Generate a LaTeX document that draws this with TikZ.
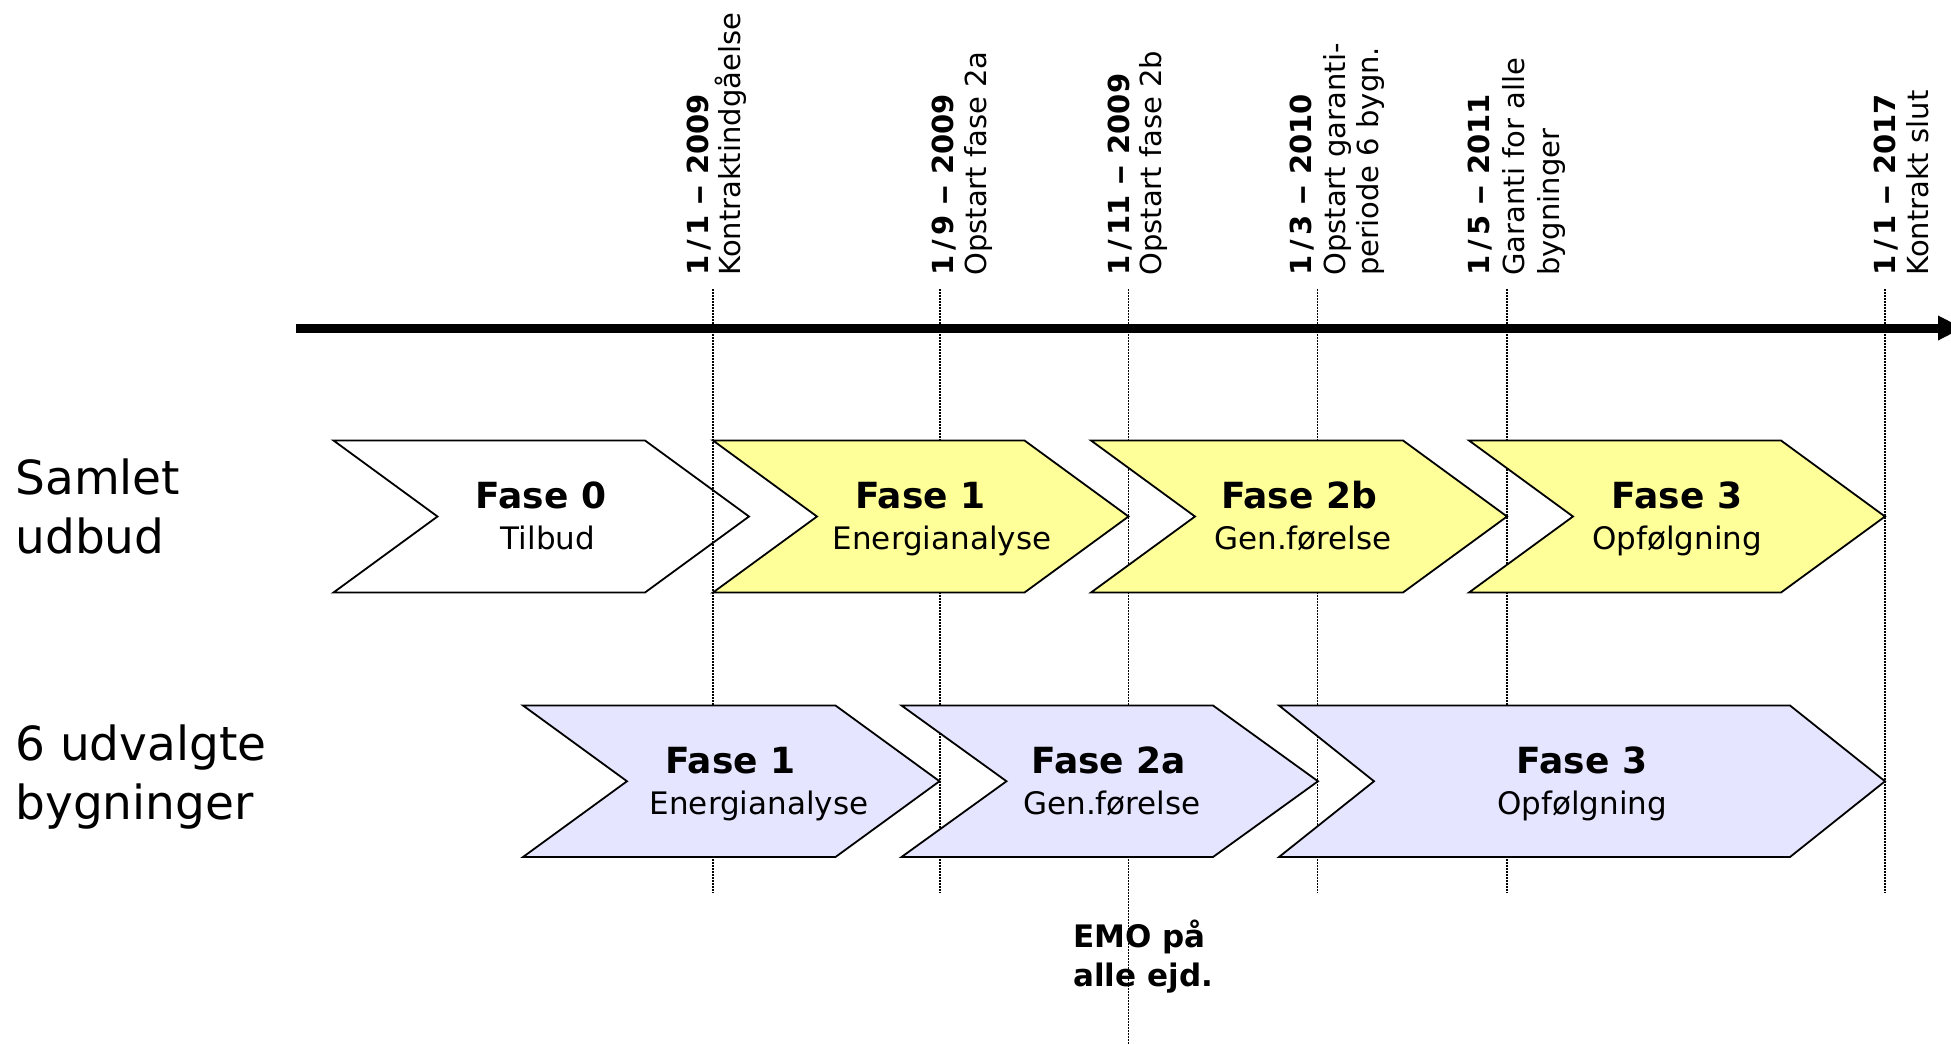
\documentclass[tikz,border=0pt]{standalone}
\usepackage{graphicx}
\usepackage{fontspec}
\setmainfont{DejaVu Sans}
\usetikzlibrary{arrows.meta}
\definecolor{chevyellow}{RGB}{255,255,153}
\definecolor{chevblue}{RGB}{229,229,255}
\tikzset{
 guide/.style={line width=0.7pt, dash pattern=on 0.75pt off 0.75pt},
 chev/.style={draw=black, line width=0.9pt, line join=miter},
 axisline/.style={line width=4.5pt, -{Triangle[length=12.5pt,width=11.5pt]}},
 phase/.style={anchor=base, inner sep=0pt, font=\fontsize{18}{21}\selectfont\bfseries},
 sub/.style={anchor=base, inner sep=0pt, font=\fontsize{15.5}{18}\selectfont},
 datelbl/.style={rotate=90, anchor=base west, inner sep=0pt, font=\fontsize{14.5}{17}\selectfont\bfseries},
 desclbl/.style={rotate=90, anchor=base west, inner sep=0pt, font=\fontsize{14.5}{17}\selectfont},
 rowlbl/.style={anchor=base west, inner sep=0pt, font=\fontsize{23.5}{28}\selectfont},
 emo/.style={anchor=base west, inner sep=0pt, font=\fontsize{15.5}{18}\selectfont\bfseries},
}
% wider slash and dash, as in the reference's typeface
\newcommand\dsl{\kern2.3pt/\kern2.3pt}
\newcommand\dda{\scalebox{1.42}[1]{–}}
% #1 style, #2 left x, #3 top y, #4 width, #5 height, #6 depth
\newcommand\chevshape[6]{%
 \draw[chev,#1] (#2,#3) -- ({#2+#4-#6},#3) -- ({#2+#4},{#3+#5/2}) -- ({#2+#4-#6},{#3+#5}) -- (#2,{#3+#5}) -- ({#2+#6},{#3+#5/2}) -- cycle;}
\begin{document}
\begin{tikzpicture}[x=0.5pt,y=-0.5pt]
\useasboundingbox (0,0) rectangle (1951,1044);
% guide lines
\coordinate (g1t) at (713,289);    \coordinate (g1b) at (713,893);
\coordinate (g2t) at (940,289);    \coordinate (g2b) at (940,893);
\coordinate (g3t) at (1128.5,289); \coordinate (g3b) at (1128.5,1044);
\coordinate (g4t) at (1317.5,289); \coordinate (g4b) at (1317.5,893);
\coordinate (g5t) at (1507,289);   \coordinate (g5b) at (1507,893);
\coordinate (g6t) at (1885,289);   \coordinate (g6b) at (1885,893);
\foreach \i in {1,...,6} {\draw[guide] (g\i t) -- (g\i b);}
% time axis
\coordinate (axs) at (296,328);
\coordinate (axe) at (1963,328);
\draw[axisline] (axs) -- (axe);
% top row chevrons
\chevshape{fill=none}{333.5}{440.5}{415.5}{152}{104}
\chevshape{fill=chevyellow}{713}{440.5}{415.5}{152}{104}
\chevshape{fill=chevyellow}{1091}{440.5}{416}{152}{104}
\chevshape{fill=chevyellow}{1469}{440.5}{416}{152}{104}
% bottom row chevrons
\chevshape{fill=chevblue}{523}{705.5}{416.5}{151.5}{104}
\chevshape{fill=chevblue}{901.5}{705.5}{416.5}{151.5}{105}
\chevshape{fill=chevblue}{1279}{705.5}{606}{151.5}{95}
% chevron texts, top row
\node[phase] (t0) at (541,508) {Fase 0};
\node[sub]   (t0s) at (548,549) {Tilbud};
\node[phase] (t1) at (920.5,508) {Fase 1};
\node[sub]   (t1s) at (942,549) {Energianalyse};
\node[phase] (t2) at (1299,508) {Fase 2b};
\node[sub]   (t2s) at (1303,549) {Gen.førelse};
\node[phase] (t3) at (1677,508) {Fase 3};
\node[sub]   (t3s) at (1677,549) {Opfølgning};
% chevron texts, bottom row
\node[phase] (b1) at (730.5,773) {Fase 1};
\node[sub]   (b1s) at (759,814) {Energianalyse};
\node[phase] (b2) at (1109,773) {Fase 2a};
\node[sub]   (b2s) at (1112,814) {Gen.førelse};
\node[phase] (b3) at (1582,773) {Fase 3};
\node[sub]   (b3s) at (1582,814) {Opfølgning};
% row labels
\node[rowlbl] (r1a) at (15,494) {Samlet};
\node[rowlbl] (r1b) at (15,553.5) {udbud};
\node[rowlbl] (r2a) at (15,760) {6 udvalgte};
\node[rowlbl] (r2b) at (15,819) {bygninger};
% date labels
\node[datelbl] (d1) at (708,276) {1\dsl1 \dda{} 2009};
\node[desclbl] (d1a) at (740,276) {Kontraktindgåelse};
\node[datelbl] (d2) at (953,276) {1\dsl9 \dda{} 2009};
\node[desclbl] (d2a) at (986,276) {Opstart fase 2a};
\node[datelbl] (d3) at (1129,276) {1\dsl11 \dda{} 2009};
\node[desclbl] (d3a) at (1161,276) {Opstart fase 2b};
\node[datelbl] (d4) at (1311,276) {1\dsl3 \dda{} 2010};
\node[desclbl] (d4a) at (1345,276) {Opstart garanti-};
\node[desclbl] (d4b) at (1378,276) {periode 6 bygn.};
\node[datelbl] (d5) at (1489,276) {1\dsl5 \dda{} 2011};
\node[desclbl] (d5a) at (1524,276) {Garanti for alle};
\node[desclbl] (d5b) at (1559,276) {bygninger};
\node[datelbl] (d6) at (1895,276) {1\dsl1 \dda{} 2017};
\node[desclbl] (d6a) at (1928,276) {Kontrakt slut};
% EMO note
\node[emo] (e1) at (1073,947) {EMO på};
\node[emo] (e2) at (1073,986) {alle ejd.};
\end{tikzpicture}
\end{document}
